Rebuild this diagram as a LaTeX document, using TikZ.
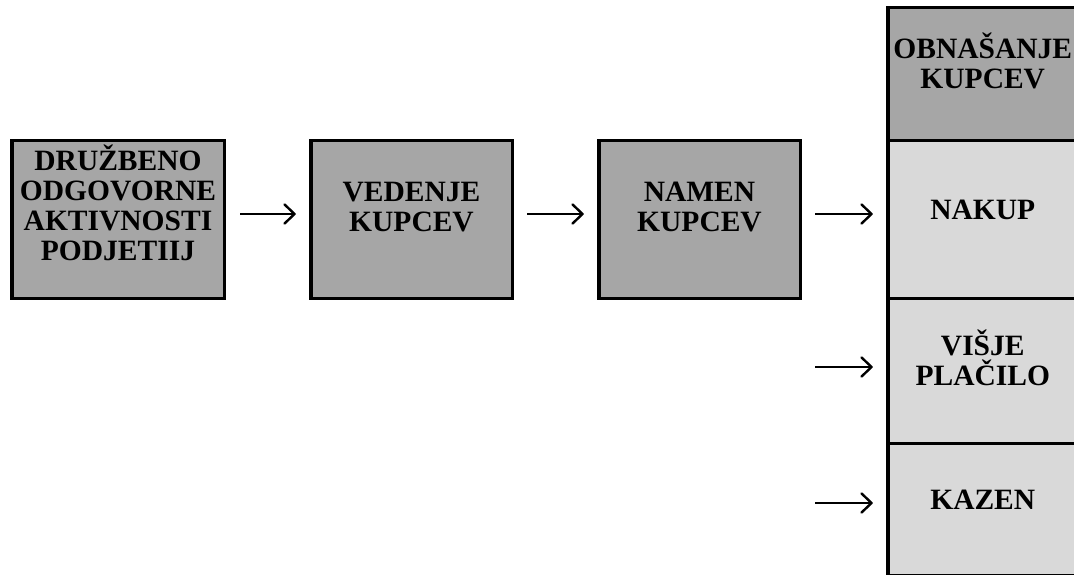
\documentclass[tikz,border=0pt]{standalone}
\usepackage{fontspec}
\setmainfont{Liberation Serif}
\usetikzlibrary{arrows.meta, positioning}
\definecolor{BoxGray}{HTML}{A6A6A6}
\definecolor{CellGray}{HTML}{D9D9D9}
\tikzset{
  box/.style={draw=black, line width=3.5pt, fill=BoxGray, align=center, outer sep=0pt, inner sep=0pt, minimum width=201.5pt, minimum height=157.5pt, font=\fontsize{29.5}{30}\selectfont\bfseries, execute at begin node={\rule{0pt}{26pt}}, text depth=26pt},
  cell/.style={box, fill=CellGray, minimum width=194pt},
  arrow/.style={-{Straight Barb[length=10pt, width=19pt, line width=2.4pt, round]}, line width=2.2pt, shorten <=15pt, shorten >=15pt}
}

\begin{document}
\begin{tikzpicture}[x=1pt, y=1pt]
\useasboundingbox (0,0) rectangle (1074,574);

\node[box, minimum width=212.5pt, text depth=33pt] (druzbeno) at (118,354.5) {DRUŽBENO\\ODGOVORNE\\AKTIVNOSTI\\PODJETIIJ};
\node[box, right=86.5pt of druzbeno] (vedenje) {VEDENJE\\KUPCEV};
\node[box, right=86.5pt of vedenje] (namen) {NAMEN\\KUPCEV};

% stolpec z obnasanjem kupcev
\node[cell, right=87.5pt of namen, minimum height=158pt, xshift=0pt] (nakup) {NAKUP\kern4pt};
\node[box, above=0pt of nakup, minimum width=194pt, minimum height=132.75pt] (obnasanje) {OBNAŠANJE\kern4pt\\KUPCEV\kern4pt};
\node[cell, below=0pt of nakup, minimum height=145pt] (visje) {VIŠJE\kern4pt\\PLAČILO\kern4pt};
\node[cell, below=0pt of visje, minimum height=132.5pt] (kazen) {KAZEN\kern4pt};

\coordinate (visjestart) at ([yshift=4pt]namen.east |- visje.west);
\coordinate (kazenstart) at ([yshift=6.75pt]namen.east |- kazen.west);

\draw[arrow, shorten <=15.75pt] ([yshift=5.5pt]druzbeno.east) -- ([yshift=5.5pt]vedenje.west);
\draw[arrow] ([yshift=5.5pt]vedenje.east) -- ([yshift=5.5pt]namen.west);
\draw[arrow] ([yshift=5.5pt]namen.east) -- ([yshift=5.5pt]nakup.west);
\draw[arrow] (visjestart) -- (visjestart -| visje.west);
\draw[arrow] (kazenstart) -- (kazenstart -| kazen.west);
\end{tikzpicture}
\end{document}
